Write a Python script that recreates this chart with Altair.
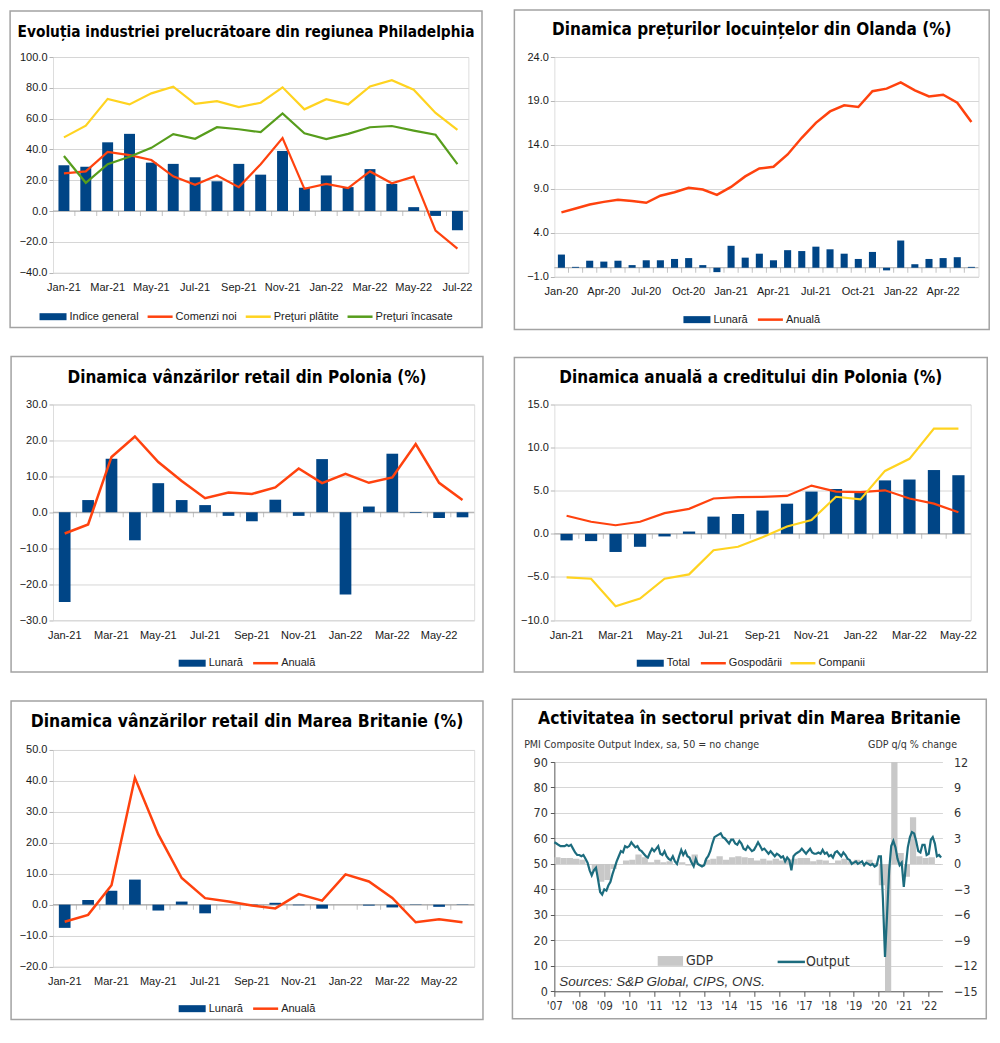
import altair as alt
import pandas as pd

# ---------------- data ----------------
p1_months = ["Jan-21", "Feb-21", "Mar-21", "Apr-21", "May-21", "Jun-21", "Jul-21", "Aug-21", "Sep-21", "Oct-21",
             "Nov-21", "Dec-21", "Jan-22", "Feb-22", "Mar-22", "Apr-22", "May-22", "Jun-22", "Jul-22"]
p1_indice = [29.7, 28.7, 44.6, 50.1, 31.4, 30.6, 21.9, 19.3, 30.6, 23.6, 39.0, 15.1, 23.1, 15.5, 27.2, 17.6, 2.5, -3.2, -12.5]
p1_comenzi = [24.4, 25.7, 38.4, 36.3, 33.1, 22.5, 17.0, 23.0, 15.5, 30.4, 47.3, 14.4, 17.6, 14.9, 25.7, 18.0, 22.3, -12.7, -24.4]
p1_platite = [47.8, 55.4, 72.8, 69.2, 76.4, 80.7, 69.6, 71.3, 67.5, 70.3, 80.3, 66.0, 72.6, 69.2, 80.9, 84.9, 78.8, 63.7, 52.7]
p1_incasate = [35.7, 18.3, 30.4, 35.2, 41.0, 49.9, 46.9, 54.4, 53.1, 51.2, 63.3, 50.5, 46.7, 50.1, 54.4, 55.2, 52.2, 49.5, 30.4]

p2_months = ["Jan-20", "Feb-20", "Mar-20", "Apr-20", "May-20", "Jun-20", "Jul-20", "Aug-20", "Sep-20", "Oct-20",
             "Nov-20", "Dec-20", "Jan-21", "Feb-21", "Mar-21", "Apr-21", "May-21", "Jun-21", "Jul-21", "Aug-21",
             "Sep-21", "Oct-21", "Nov-21", "Dec-21", "Jan-22", "Feb-22", "Mar-22", "Apr-22", "May-22", "Jun-22"]
p2_lunara = [1.5, 0.1, 0.8, 0.7, 0.8, 0.3, 0.85, 0.85, 1.0, 1.1, 0.3, -0.5, 2.5, 1.15, 1.6, 0.85, 2.0, 1.9, 2.4, 2.1,
             1.6, 1.0, 1.8, -0.3, 3.1, 0.4, 1.0, 1.1, 1.2, 0.1]
p2_anuala = [6.3, 6.75, 7.2, 7.5, 7.75, 7.6, 7.4, 8.2, 8.6, 9.1, 8.9, 8.3, 9.2, 10.4, 11.3, 11.5, 12.9, 14.8, 16.5, 17.8,
             18.5, 18.3, 20.1, 20.4, 21.1, 20.2, 19.5, 19.7, 18.8, 16.6]

p3_months = ["Jan-21", "Feb-21", "Mar-21", "Apr-21", "May-21", "Jun-21", "Jul-21", "Aug-21", "Sep-21", "Oct-21",
             "Nov-21", "Dec-21", "Jan-22", "Feb-22", "Mar-22", "Apr-22", "May-22", "Jun-22"]
p3_lunara = [-25.0, 3.4, 14.9, -7.8, 8.1, 3.4, 2.0, -1.0, -2.5, 3.5, -1.0, 14.8, -22.9, 1.6, 16.3, -0.2, -1.6, -1.4]
p3_anuala = [-5.9, -3.4, 15.4, 21.1, 14.0, 8.7, 3.9, 5.5, 5.1, 6.9, 12.2, 8.1, 10.7, 8.2, 9.7, 19.0, 8.2, 3.4]

p4_months = ["Jan-21", "Feb-21", "Mar-21", "Apr-21", "May-21", "Jun-21", "Jul-21", "Aug-21", "Sep-21", "Oct-21",
             "Nov-21", "Dec-21", "Jan-22", "Feb-22", "Mar-22", "Apr-22", "May-22"]
p4_total = [-0.76, -0.84, -2.1, -1.5, -0.3, 0.27, 2.0, 2.3, 2.7, 3.5, 4.9, 5.2, 4.75, 6.2, 6.3, 7.4, 6.8]
p4_gospodarii = [2.1, 1.4, 1.0, 1.4, 2.4, 2.9, 4.1, 4.25, 4.3, 4.4, 5.6, 4.9, 4.85, 5.05, 4.1, 3.5, 2.5]
p4_companii = [-5.05, -5.2, -8.4, -7.5, -5.2, -4.7, -1.9, -1.5, -0.4, 0.85, 1.6, 4.3, 4.0, 7.3, 8.7, 12.2, 12.2]

p5_months = ["Jan-21", "Feb-21", "Mar-21", "Apr-21", "May-21", "Jun-21", "Jul-21", "Aug-21", "Sep-21", "Oct-21",
             "Nov-21", "Dec-21", "Jan-22", "Feb-22", "Mar-22", "Apr-22", "May-22", "Jun-22"]
p5_lunara = [-7.5, 1.5, 4.5, 8.1, -1.9, 1.0, -2.8, 0.0, -0.3, 0.6, -0.2, -1.3, 0.0, -0.3, -0.9, -0.1, -0.7, -0.1]
p5_anuala = [-5.5, -3.3, 6.3, 41.0, 22.7, 8.6, 2.1, 1.0, -0.3, -1.2, 3.4, 1.3, 9.8, 7.5, 2.2, -5.7, -4.7, -5.7]

# UK PMI composite output, monthly from Jan 2007 to Jul 2022
p6_start = "2007-01-01"
p6_output = [
    58.5, 58.0, 57.5, 57.0, 57.0, 57.0, 57.5, 57.0, 57.5, 56.0, 54.5, 53.5,   # 2007
    53.5, 53.0, 53.5, 52.0, 50.5, 47.5, 45.5, 47.5, 48.5, 44.0, 39.0, 38.0,   # 2008
    40.0, 39.5, 41.5, 43.0, 46.0, 48.5, 51.0, 53.0, 55.0, 54.5, 57.0, 56.5,   # 2009
    57.0, 58.5, 57.5, 56.5, 57.0, 55.5, 55.0, 54.0, 53.0, 52.5, 54.5, 56.0,   # 2010
    55.0, 56.0, 57.0, 54.0, 53.5, 55.0, 53.0, 52.0, 51.5, 53.0, 51.0, 50.0,   # 2011
    53.0, 55.5, 53.5, 55.0, 53.0, 52.5, 50.5, 49.0, 52.0, 50.0, 49.5, 49.0,   # 2012
    49.5, 52.0, 53.0, 55.0, 58.0, 60.5, 61.0, 61.5, 62.0, 60.5, 60.0, 59.0,   # 2013
    58.0, 59.5, 59.5, 58.0, 57.5, 59.0, 58.0, 56.0, 55.5, 57.0, 56.0, 55.0,   # 2014
    55.5, 57.0, 58.5, 57.0, 55.5, 56.0, 55.0, 54.0, 55.0, 54.0, 53.0, 54.0,   # 2015
    53.5, 52.5, 53.0, 51.0, 52.5, 51.5, 47.5, 53.0, 54.0, 54.5, 55.0, 56.0,   # 2016
    55.0, 54.0, 55.0, 56.0, 54.5, 54.0, 54.0, 54.5, 54.0, 55.5, 54.0, 54.5,   # 2017
    53.0, 53.5, 52.5, 54.5, 55.0, 54.0, 53.0, 54.5, 53.5, 52.0, 51.5, 50.0,   # 2018
    50.5, 51.0, 50.0, 50.5, 51.0, 49.5, 50.5, 50.0, 49.5, 50.0, 49.0, 49.5,   # 2019
    53.0, 53.0, 36.5, 13.5, 30.0, 47.5, 57.0, 59.0, 56.5, 52.0, 49.5, 50.5,   # 2020
    41.0, 49.5, 56.5, 60.5, 62.5, 62.0, 59.0, 55.0, 54.5, 57.5, 57.5, 53.5,   # 2021
    54.0, 59.5, 60.5, 58.0, 53.0, 53.5, 52.5,                                 # 2022
]
# UK GDP q/q % change, quarterly from 2007Q1 to 2022Q2
p6_gdp = [
    0.8, 0.7, 0.7, 0.6,  0.5, -0.1, -0.9, -2.1,  -1.9, -0.6, 0.0, 0.4,  0.5, 1.1, 0.8, 0.2,
    0.5, 0.2, 0.3, 0.0,  0.2, -0.2, 1.1, -0.2,  0.5, 0.6, 0.9, 0.5,  0.8, 0.9, 0.8, 0.7,
    0.4, 0.6, 0.4, 0.6,  0.4, 0.5, 0.6, 0.7,  0.7, 0.3, 0.5, 0.4,  0.1, 0.4, 0.6, 0.3,
    0.5, -0.1, 0.5, 0.1,  -2.5, -19.5, 16.9, 1.3,  -1.5, 5.5, 0.9, 0.7,  0.8, -0.1,
]

titles = [
    "Evoluția industriei prelucrătoare din regiunea Philadelphia",
    "Dinamica prețurilor locuințelor din Olanda (%)",
    "Dinamica vânzărilor retail din Polonia (%)",
    "Dinamica anuală a creditului din Polonia (%)",
    "Dinamica vânzărilor retail din Marea Britanie (%)",
    "Activitatea în sectorul privat din Marea Britanie",
]

# ---------------- style ----------------
FONT = "Liberation Sans, Arial, sans-serif"
NARROW = "DejaVu Sans Condensed, Liberation Sans Narrow, Liberation Sans, sans-serif"
BLUE, ORANGE, YELLOW, GREEN = "#004586", "#ff420e", "#ffd320", "#579d1c"
TEAL, GDPGRAY = "#1c6c7e", "#c8c8c8"
FRAME, GRID, VIEW = "#a3a3a3", "#d6d6d6", "#c6c6c6"
SX, SY = 0.975, 0.98


def one():
    return alt.Data(values=[{"k": 0}])


def tw(s, size):
    w = 0.0
    for ch in s:
        if ch in "ijlí":
            e = .222
        elif ch in "ftIîțţ .,:;!/":
            e = .278
        elif ch in "r-()":
            e = .333
        elif ch in "ckvxyzsșşJ":
            e = .5
        elif ch in "mM":
            e = .833
        elif ch == "w":
            e = .722
        elif ch == "%":
            e = .889
        elif ch in "CDGHNOQUR":
            e = .722
        elif ch.isupper() or ch == "&":
            e = .667
        else:
            e = .556
        w += e
    return w * size


def legend(items, cx, cy, size=11):
    sym = {"bar": 27, "line": 25}
    parts = [sym[k] + 3 + tw(lbl, size) for lbl, k, c in items]
    total = sum(parts) + 9 * (len(items) - 1)
    x = cx - total / 2
    out = []
    for (lbl, k, c), wp in zip(items, parts):
        sw = sym[k]
        if k == "bar":
            out.append(alt.Chart(one()).mark_rect(color=c).encode(
                x=alt.value(x), x2=alt.value(x + sw), y=alt.value(cy - 3.5), y2=alt.value(cy + 3.5)))
        else:
            out.append(alt.Chart(one()).mark_rule(color=c, strokeWidth=2.5).encode(
                x=alt.value(x), x2=alt.value(x + sw), y=alt.value(cy)))
        out.append(alt.Chart(one()).mark_text(text=lbl, align="left", baseline="middle", font=FONT,
                                              fontSize=size, color="#222").encode(
            x=alt.value(x + sw + 3), y=alt.value(cy)))
        x += wp + 9
    return out


def frame_and_title(title, tsize, plot, frame, ty):
    px0, py0, px1, py1 = plot
    fx0, fy0, fx1, fy1 = frame
    rx = lambda r: (r - px0) * SX
    ry = lambda r: (r - py0) * SY
    fr = alt.Chart(one()).mark_rect(filled=False, color=FRAME, strokeWidth=1.5).encode(
        x=alt.value(rx(fx0)), x2=alt.value(rx(fx1)), y=alt.value(ry(fy0)), y2=alt.value(ry(fy1)))
    tt = alt.Chart(one()).mark_text(text=title, font=NARROW, fontSize=tsize, fontWeight="bold",
                                    align="center", baseline="middle", color="#000").encode(
        x=alt.value(rx((fx0 + fx1) / 2)), y=alt.value(ry(ty)))
    return fr, tt, rx, ry


def bar_line_panel(title, tsize, cats, bar, lines, ydom, yticks, xstep, plot, frame, ty, ly, lw=2.5):
    px0, py0, px1, py1 = plot
    w, h = (px1 - px0) * SX, (py1 - py0) * SY
    fr, tt, rx, ry = frame_and_title(title, tsize, plot, frame, ty)
    xs = alt.Scale(paddingInner=0.5, paddingOuter=0.25)
    ys = alt.Scale(domain=ydom, nice=False, zero=False)
    xaxis = alt.Axis(values=cats[::xstep], labelAngle=0, domain=False, ticks=False, grid=False, labelPadding=9,
                     title=None, labelFont=FONT, labelFontSize=11, labelColor="#1a1a1a")
    yaxis = alt.Axis(values=yticks, format=".1f", grid=True, gridColor=GRID, domain=False, ticks=True, tickSize=4,
                     tickColor="#b5b5b5", labelPadding=2, title=None, labelFont=FONT, labelFontSize=11,
                     labelColor="#1a1a1a")
    X = alt.X("m:N", sort=cats, scale=xs, axis=xaxis)
    Y = alt.Y("v:Q", scale=ys, axis=yaxis)
    zero = alt.Chart(pd.DataFrame({"v": [0]})).mark_rule(color="#a8a8a8", strokeWidth=1).encode(y=Y)
    step = w / len(cats)
    zt = alt.Chart(pd.DataFrame({"m": cats[1:], "v": [0] * (len(cats) - 1)})).mark_tick(
        orient="vertical", size=5, thickness=1, color="#a8a8a8", xOffset=-step / 2, yOffset=2.5).encode(x=X, y=Y)
    bname, bvals = bar
    bars = alt.Chart(pd.DataFrame({"m": cats, "v": bvals})).mark_bar(color=BLUE).encode(x=X, y=Y)
    lns = []
    for name, vals, col in lines:
        ldf = pd.DataFrame({"m": cats, "v": vals, "i": list(range(len(cats)))})
        lns.append(alt.Chart(ldf).mark_line(color=col, strokeWidth=lw).encode(x=X, y=Y, order=alt.Order("i:Q")))
    items = [(bname, "bar", BLUE)] + [(l[0], "line", l[2]) for l in lines]
    leg = legend(items, rx((frame[0] + frame[2]) / 2), ry(ly))
    return alt.layer(fr, zero, zt, bars, *lns, tt, *leg).properties(width=w, height=h)


p1 = bar_line_panel(titles[0], 15.3, p1_months, ("Indice general", p1_indice),
                    [("Comenzi noi", p1_comenzi, ORANGE), ("Preţuri plătite", p1_platite, YELLOW),
                     ("Preţuri încasate", p1_incasate, GREEN)],
                    [-40, 100], list(range(-40, 101, 20)), 2,
                    (45, 48, 471, 268), (1, 1, 485, 324), 22, 313, lw=2.2)
p2 = bar_line_panel(titles[1], 17, p2_months, ("Lunară", p2_lunara), [("Anuală", p2_anuala, ORANGE)],
                    [-1, 24], [-1, 4, 9, 14, 19, 24], 3,
                    (552, 49, 987, 273), (511, 1, 998, 327), 21, 317)
p3 = bar_line_panel(titles[2], 17, p3_months, ("Lunară", p3_lunara), [("Anuală", p3_anuala, ORANGE)],
                    [-30, 30], list(range(-30, 31, 10)), 2,
                    (44, 403, 476, 623), (1, 354, 485, 676), 376, 667)
p4 = bar_line_panel(titles[3], 17, p4_months, ("Total", p4_total),
                    [("Gospodării", p4_gospodarii, ORANGE), ("Companii", p4_companii, YELLOW)],
                    [-10, 15], list(range(-10, 16, 5)), 2,
                    (553, 403, 980, 623), (512, 355, 997, 676), 376, 667, lw=2.2)
p5 = bar_line_panel(titles[4], 17.4, p5_months, ("Lunară", p5_lunara), [("Anuală", p5_anuala, ORANGE)],
                    [-20, 50], list(range(-20, 51, 10)), 2,
                    (44, 749, 476, 970), (1, 699, 485, 1024), 720, 1013)


def pmi_panel():
    plot, frame = (555, 763, 953, 997), (512, 699, 998, 1025)
    px0, py0, px1, py1 = plot
    w, h = (px1 - px0) * SX, (py1 - py0) * SY
    fr, tt, rx, ry = frame_and_title(titles[5], 17.4, plot, frame, 719)
    dates = pd.date_range(p6_start, periods=len(p6_output), freq="MS")
    odf = pd.DataFrame({"d": dates, "v": p6_output})
    qs = pd.date_range(p6_start, periods=len(p6_gdp) + 1, freq="QS")
    gdf = pd.DataFrame({"s": qs[:-1], "e": qs[1:], "g": p6_gdp})
    xs = alt.Scale(domain=[alt.DateTime(year=2007, month=1, date=1), alt.DateTime(year=2022, month=7, date=20)])
    xaxis = alt.Axis(values=[alt.DateTime(year=y, month=1, date=1) for y in range(2007, 2023)], format="'%y",
                     labelFont=NARROW, labelFontSize=11.5, labelColor="#333", domainColor="#595959",
                     tickColor="#595959", tickSize=5, labelPadding=4, grid=False, title=None, labelAngle=0,
                     labelOverlap=False, labelFlush=False, labelBound=False)
    yr = alt.Axis(orient="right", values=list(range(-15, 13, 3)), grid=False, domain=False, ticks=False,
                  labelPadding=11, labelFont=NARROW, labelFontSize=12.5, labelColor="#333", title=None)
    yl = alt.Axis(orient="left", values=list(range(0, 91, 10)), grid=True, gridColor=GRID, domainColor="#595959",
                  tickColor="#595959", tickSize=4, labelPadding=3, labelFont=NARROW, labelFontSize=12.5,
                  labelColor="#333", title=None)
    gdp = alt.Chart(gdf).mark_bar(color=GDPGRAY, clip=True).encode(
        x=alt.X("s:T", scale=xs, axis=xaxis), x2="e:T",
        y=alt.Y("g:Q", scale=alt.Scale(domain=[-15, 12], nice=False, zero=False), axis=yr),
        y2=alt.datum(0))
    line = alt.Chart(odf).mark_line(color=TEAL, strokeWidth=2.2).encode(
        x=alt.X("d:T", scale=xs, axis=xaxis),
        y=alt.Y("v:Q", scale=alt.Scale(domain=[0, 90], nice=False), axis=yl))
    t_left = alt.Chart(one()).mark_text(text="PMI Composite  Output Index, sa, 50 = no change", font=NARROW,
                                        fontSize=10.6, align="left", baseline="middle", color="#333").encode(
        x=alt.value(rx(524)), y=alt.value(ry(746)))
    t_right = alt.Chart(one()).mark_text(text="GDP q/q % change", font=NARROW, fontSize=10.6, align="right",
                                         baseline="middle", color="#333").encode(
        x=alt.value(rx(968)), y=alt.value(ry(746)))
    lg1 = alt.Chart(one()).mark_rect(color=GDPGRAY).encode(
        x=alt.value(rx(661)), x2=alt.value(rx(687)), y=alt.value(ry(961)), y2=alt.value(ry(971)))
    lg1t = alt.Chart(one()).mark_text(text="GDP", font=NARROW, fontSize=14, align="left", baseline="middle",
                                      color="#333").encode(x=alt.value(rx(690)), y=alt.value(ry(966)))
    lg2 = alt.Chart(one()).mark_rule(color=TEAL, strokeWidth=2.5).encode(
        x=alt.value(rx(784)), x2=alt.value(rx(812)), y=alt.value(ry(967)))
    lg2t = alt.Chart(one()).mark_text(text="Output", font=NARROW, fontSize=14, align="left", baseline="middle",
                                      color="#333").encode(x=alt.value(rx(813)), y=alt.value(ry(967)))
    src = alt.Chart(one()).mark_text(text="Sources: S&P Global, CIPS, ONS.", font=FONT, fontSize=13.5,
                                     fontStyle="italic", align="left", baseline="middle", color="#333").encode(
        x=alt.value(rx(560)), y=alt.value(ry(987)))
    return alt.layer(fr, gdp, line, tt, t_left, t_right, lg1, lg1t, lg2, lg2t, src).resolve_scale(
        y="independent").properties(width=w, height=h, view=alt.ViewBackground(stroke="transparent"))


p6 = pmi_panel()

left = alt.vconcat(p1, p3, p5, spacing=26 * SY)
right = alt.vconcat(p2, p4, p6, spacing=25 * SY)
chart = alt.hconcat(left, right, spacing=26 * SX).properties(padding=0, background="white").configure_view(
    stroke=VIEW).configure(font=FONT)

chart.save("out.html", embed_options={"renderer": "svg", "actions": False})
